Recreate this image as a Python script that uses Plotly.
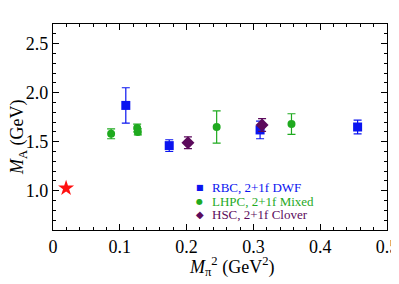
import plotly.graph_objects as go

# Data
star_x = [0.0196]
star_y = [1.026]

rbc_x = [0.109, 0.174, 0.310, 0.456]
rbc_y = [1.87, 1.46, 1.62, 1.65]
rbc_err = [0.18, 0.06, 0.09, 0.07]

lhpc_x = [0.087, 0.126, 0.127, 0.245, 0.357]
lhpc_y = [1.58, 1.64, 1.60, 1.65, 1.68]
lhpc_err = [0.05, 0.04, 0.03, 0.165, 0.105]

hsc_x = [0.202, 0.313]
hsc_y = [1.49, 1.67]
hsc_err = [0.06, 0.065]

series_names = ["RBC, 2+1f DWF", "LHPC, 2+1f Mixed", "HSC, 2+1f Clover"]
xtick_vals = [0, 0.1, 0.2, 0.3, 0.4, 0.5]
xtick_text = ["0", "0.1", "0.2", "0.3", "0.4", "0.5"]
ytick_vals = [1.0, 1.5, 2.0, 2.5]
ytick_text = ["1.0", "1.5", "2.0", "2.5"]
x_title = "<i>M</i><sub>π</sub><sup>2</sup> (GeV<sup>2</sup>)"
y_title = "<i>M</i><sub>A</sub> (GeV)"

BLUE = "#0a14f0"
GREEN = "#1faa1f"
PURPLE = "#5c0a5c"
FONT = "Liberation Serif"

fig = go.Figure()
fig.add_trace(go.Scatter(x=star_x, y=star_y, mode="markers", showlegend=False,
                         marker=dict(symbol="star", size=12, color="#ff1010",
                                     line=dict(width=0))))
fig.add_trace(go.Scatter(x=rbc_x, y=rbc_y, mode="markers", name=series_names[0], showlegend=False,
                         error_y=dict(type="data", array=rbc_err, color=BLUE, thickness=1.2, width=4),
                         marker=dict(symbol="square", size=9, color=BLUE)))
fig.add_trace(go.Scatter(x=lhpc_x, y=lhpc_y, mode="markers", name=series_names[1], showlegend=False,
                         error_y=dict(type="data", array=lhpc_err, color=GREEN, thickness=1.2, width=4),
                         marker=dict(symbol="circle", size=8, color=GREEN)))
fig.add_trace(go.Scatter(x=hsc_x, y=hsc_y, mode="markers", name=series_names[2], showlegend=False,
                         error_y=dict(type="data", array=hsc_err, color=PURPLE, thickness=1.2, width=4),
                         marker=dict(symbol="diamond", size=10, color=PURPLE)))

# Compact legend rows, as in the reference
legend_rows = [("■", BLUE, 8), ("●", GREEN, 8), ("◆", PURPLE, 10)]
for i, ((sym, col, ssize), name) in enumerate(zip(legend_rows, series_names)):
    ypos = 0.204 - i * 0.0655
    fig.add_annotation(xref="paper", yref="paper", x=0.44, y=ypos, xanchor="center", yanchor="middle",
                       text=sym, showarrow=False, borderpad=0,
                       font=dict(family="DejaVu Sans", size=ssize, color=col))
    fig.add_annotation(xref="paper", yref="paper", x=0.472, y=ypos, xanchor="left", yanchor="middle",
                       text=name, showarrow=False, borderpad=0,
                       font=dict(family=FONT, size=13, color=col))

# Axis titles placed as in the reference
fig.add_annotation(xref="paper", yref="paper", x=0.534, y=-0.175, xanchor="center", yanchor="middle",
                   text=x_title, showarrow=False, borderpad=0,
                   font=dict(family=FONT, size=18, color="black"))
fig.add_annotation(xref="paper", yref="paper", x=-0.105, y=0.451, xanchor="center", yanchor="middle",
                   text=y_title, showarrow=False, textangle=-90, borderpad=0,
                   font=dict(family=FONT, size=18, color="black"))

# page body has an 8px margin, so the figure is sized/offset to compensate
fig.update_layout(
    width=391, height=276,
    margin=dict(l=45, r=12, t=16, b=54),
    plot_bgcolor="white", paper_bgcolor="white",
    font=dict(family=FONT, size=18, color="black"),
    showlegend=False,
)
axis_style = dict(automargin=False, showline=True, linecolor="black", linewidth=1.2, mirror="ticks",
                  ticks="inside", ticklen=6, tickcolor="black", showgrid=False, zeroline=False,
                  tickfont=dict(family=FONT, size=18, color="black"))
fig.update_xaxes(range=[0, 0.5], tickmode="array", tickvals=xtick_vals, ticktext=xtick_text,
                 minor=dict(ticks="inside", dtick=0.02, ticklen=3, tickcolor="black"),
                 **axis_style)
fig.update_yaxes(range=[0.6, 2.7], tickmode="array", tickvals=ytick_vals, ticktext=ytick_text,
                 minor=dict(ticks="inside", dtick=0.1, ticklen=3, tickcolor="black"),
                 **axis_style)

fig.write_html("out.html")
